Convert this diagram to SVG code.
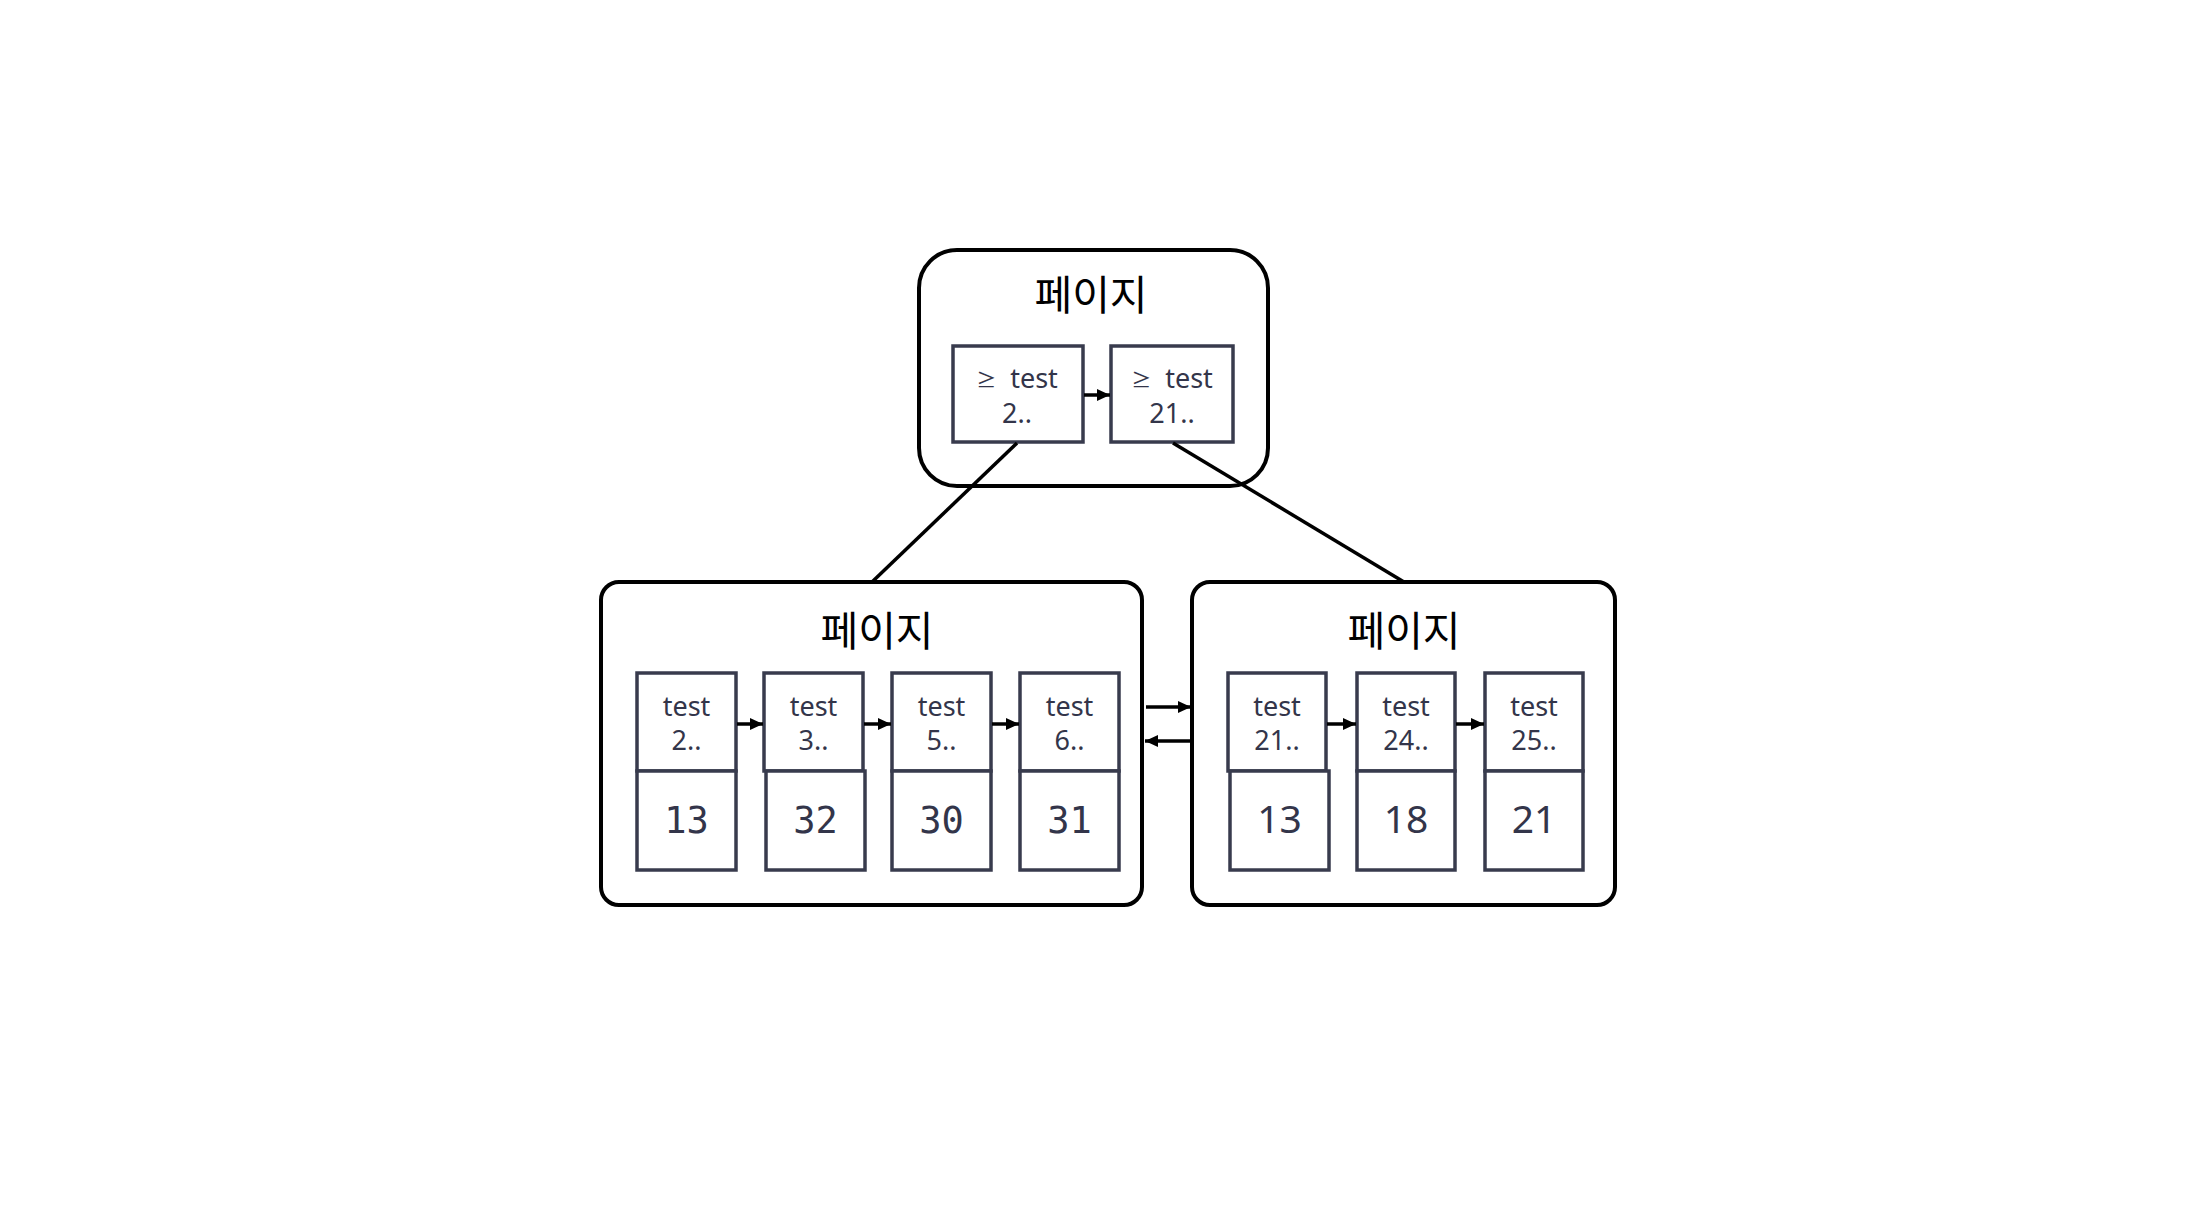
<svg xmlns="http://www.w3.org/2000/svg" width="2190" height="1230" viewBox="0 0 2190 1230">
<defs>
<style>
.page{fill:#ffffff;stroke:#000000;stroke-width:4}
.cell{fill:#ffffff;stroke:#383b4d;stroke-width:3.5}
.title{font-family:"Noto Sans CJK KR","Noto Sans",sans-serif;font-size:41px;font-weight:400;fill:#000000;text-anchor:middle}
.lbl{font-family:"Noto Sans","Noto Sans CJK KR",sans-serif;font-size:27px;fill:#33354a;text-anchor:middle}
.ge{font-family:"Noto Sans CJK KR",sans-serif;font-size:20px}
.num{font-family:"Noto Sans",sans-serif;font-size:39px;fill:#33354a;text-anchor:middle}
.mono{font-family:"DejaVu Sans Mono","Liberation Mono",monospace;font-size:37px;fill:#33354a;text-anchor:middle}
.link{stroke:#000000;stroke-width:3.5;fill:none}
.arr{stroke:#000000;stroke-width:3.5;fill:none;marker-end:url(#ah)}
</style>
<marker id="ah" markerUnits="userSpaceOnUse" markerWidth="13" markerHeight="12" refX="13" refY="6" orient="auto">
<path d="M0,0 L13,6 L0,12 z" fill="#000000"/>
</marker>
</defs>
<rect width="2190" height="1230" fill="#ffffff"/>

<g id="page-root">
<rect class="page" x="919" y="250" width="349" height="236" rx="38"/>
<text class="title" x="1091" y="310">페이지</text>
<g id="root-key-1">
<rect class="cell" x="953" y="346" width="130" height="96"/>
<text class="lbl" x="1017" y="388"><tspan class="ge">≥</tspan>&#160; test</text>
<text class="lbl" x="1017" y="423">2..</text>
</g>
<g id="root-key-2">
<rect class="cell" x="1111" y="346" width="122" height="96"/>
<text class="lbl" x="1172" y="388"><tspan class="ge">≥</tspan>&#160; test</text>
<text class="lbl" x="1172" y="423">21..</text>
</g>
</g>

<g id="page-left">
<rect class="page" x="601" y="582" width="541" height="323" rx="18"/>
<text class="title" x="877" y="646">페이지</text>
<g id="left-rec-1">
<rect class="cell" x="637" y="673" width="99" height="98"/>
<rect class="cell" x="637" y="771" width="99" height="99"/>
<text class="lbl" x="686.5" y="716">test</text>
<text class="lbl" x="686.5" y="750">2..</text>
<text class="mono" x="686.5" y="833">13</text>
</g>
<g id="left-rec-2">
<rect class="cell" x="764" y="673" width="99" height="98"/>
<rect class="cell" x="766" y="771" width="99" height="99"/>
<text class="lbl" x="813.5" y="716">test</text>
<text class="lbl" x="813.5" y="750">3..</text>
<text class="mono" x="815.5" y="833">32</text>
</g>
<g id="left-rec-3">
<rect class="cell" x="892" y="673" width="99" height="98"/>
<rect class="cell" x="892" y="771" width="99" height="99"/>
<text class="lbl" x="941.5" y="716">test</text>
<text class="lbl" x="941.5" y="750">5..</text>
<text class="mono" x="941.5" y="833">30</text>
</g>
<g id="left-rec-4">
<rect class="cell" x="1020" y="673" width="99" height="98"/>
<rect class="cell" x="1020" y="771" width="99" height="99"/>
<text class="lbl" x="1069.5" y="716">test</text>
<text class="lbl" x="1069.5" y="750">6..</text>
<text class="mono" x="1069.5" y="833">31</text>
</g>
</g>

<g id="page-right">
<rect class="page" x="1192" y="582" width="423" height="323" rx="18"/>
<text class="title" x="1404" y="646">페이지</text>
<g id="right-rec-1">
<rect class="cell" x="1228" y="673" width="98" height="98"/>
<rect class="cell" x="1230" y="771" width="99" height="99"/>
<text class="lbl" x="1277" y="716">test</text>
<text class="lbl" x="1277" y="750">21..</text>
<text class="num" x="1279.5" y="833">13</text>
</g>
<g id="right-rec-2">
<rect class="cell" x="1357" y="673" width="98" height="98"/>
<rect class="cell" x="1357" y="771" width="98" height="99"/>
<text class="lbl" x="1406" y="716">test</text>
<text class="lbl" x="1406" y="750">24..</text>
<text class="num" x="1406" y="833">18</text>
</g>
<g id="right-rec-3">
<rect class="cell" x="1485" y="673" width="98" height="98"/>
<rect class="cell" x="1485" y="771" width="98" height="99"/>
<text class="lbl" x="1534" y="716">test</text>
<text class="lbl" x="1534" y="750">25..</text>
<text class="num" x="1534" y="833">21</text>
</g>
</g>

<g id="connectors">
<line class="link" x1="1017" y1="443" x2="872" y2="582"/>
<line class="link" x1="1173" y1="443" x2="1404" y2="582"/>
<line class="arr" x1="1084" y1="395" x2="1110" y2="395"/>
<line class="arr" x1="737" y1="724" x2="763" y2="724"/>
<line class="arr" x1="864" y1="724" x2="891" y2="724"/>
<line class="arr" x1="992" y1="724" x2="1019" y2="724"/>
<line class="arr" x1="1327" y1="724" x2="1356" y2="724"/>
<line class="arr" x1="1456" y1="724" x2="1484" y2="724"/>
<line class="arr" x1="1146" y1="707" x2="1191" y2="707"/>
<line class="arr" x1="1192" y1="741" x2="1145" y2="741"/>
</g>
</svg>
